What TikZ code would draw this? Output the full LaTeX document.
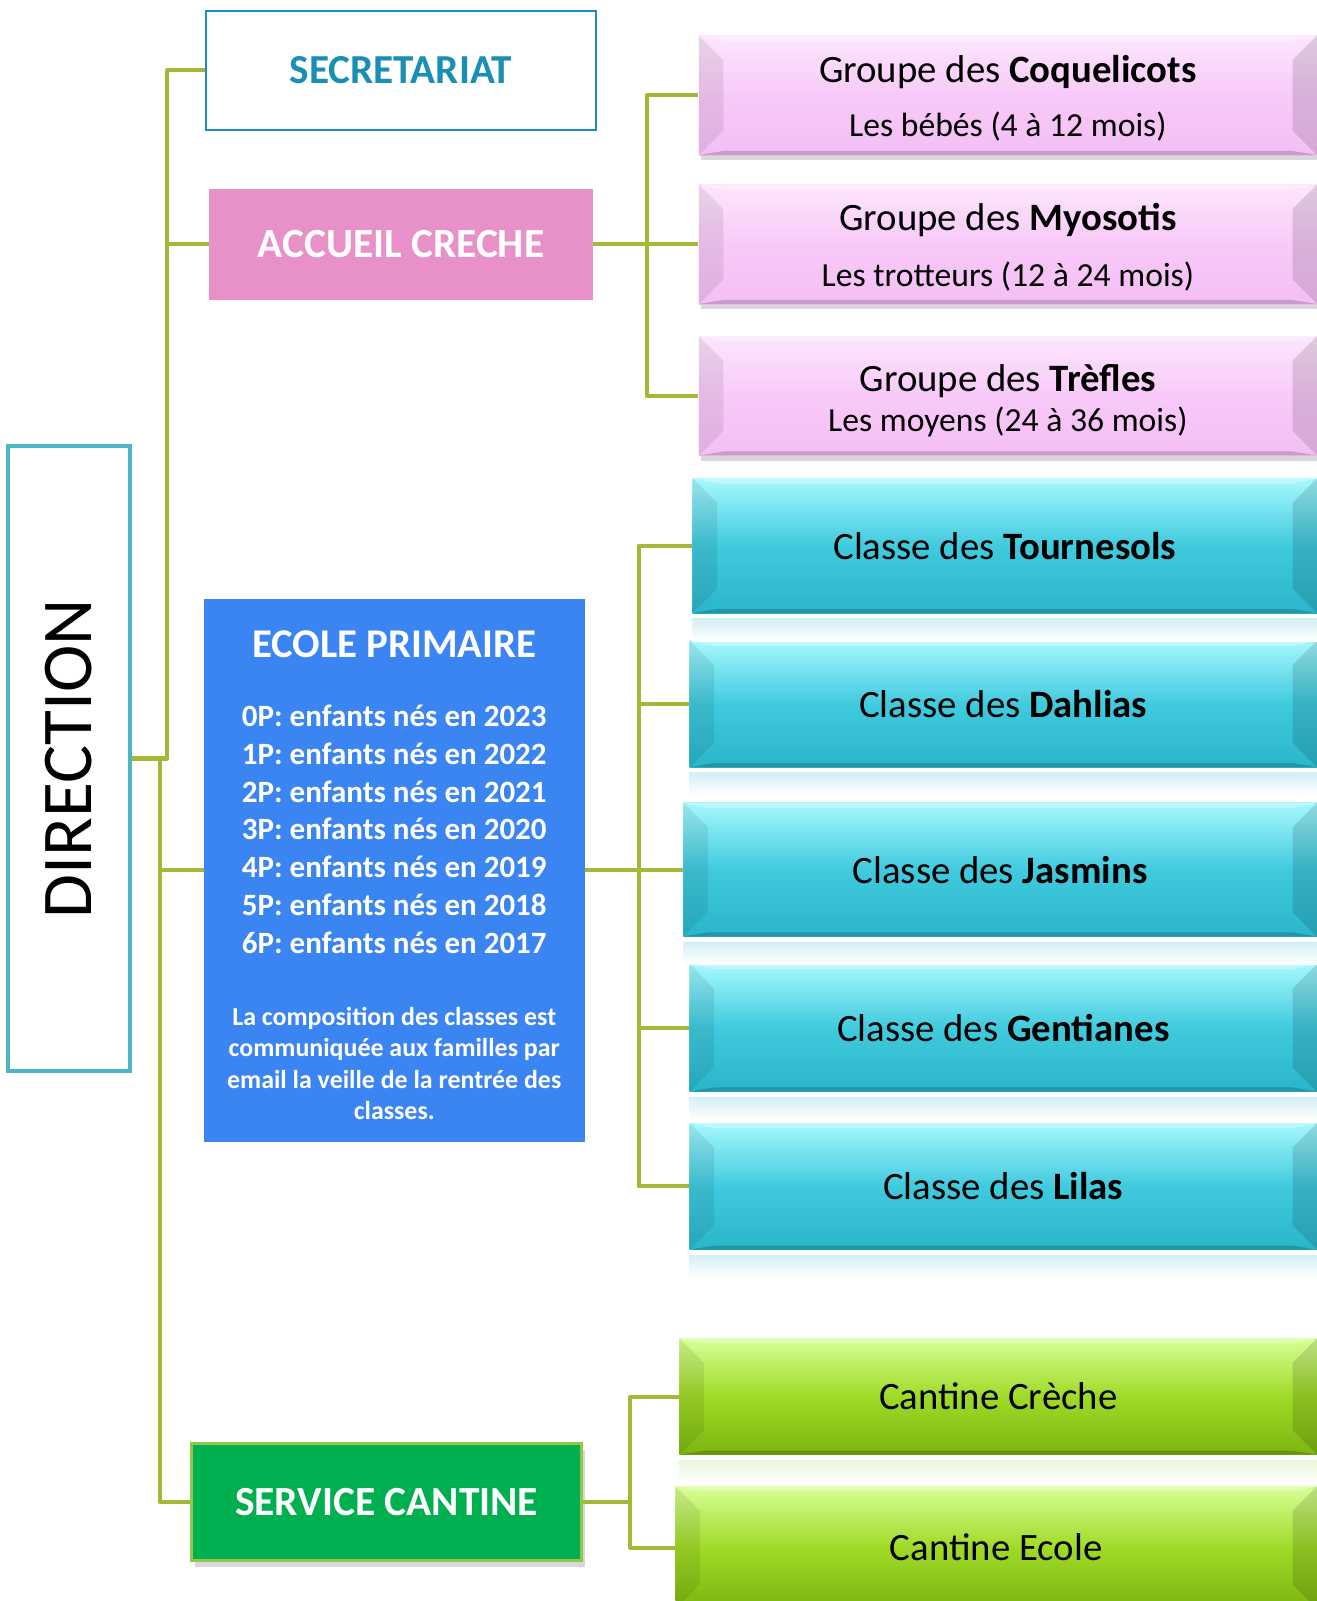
\documentclass[tikz,border=0pt]{standalone}
\usepackage{fontspec}
\setmainfont{Carlito}
\usetikzlibrary{calc,shadows}

\definecolor{olivelink}{HTML}{A6B637}
\definecolor{dirteal}{HTML}{4BB6C6}
\definecolor{secblue}{HTML}{1B8DBF}
\definecolor{sectext}{HTML}{1A8FB5}
\definecolor{crechepink}{HTML}{E891C8}
\definecolor{ecoleblue}{HTML}{3B85F2}
\definecolor{cantgreen}{HTML}{00B050}
\definecolor{cantedge}{HTML}{92C84A}
\definecolor{pinktop}{HTML}{FCE6FC}
\definecolor{pinkmid}{HTML}{F8C9F8}
\definecolor{pinkbot}{HTML}{F4BFF4}
\definecolor{tealtop}{HTML}{A6F8FE}
\definecolor{tealmid}{HTML}{40CADE}
\definecolor{tealbot}{HTML}{2AB5CA}
\definecolor{limetop}{HTML}{D6FF96}
\definecolor{limemid}{HTML}{A0DA27}
\definecolor{limebot}{HTML}{7BB50F}
\definecolor{tealglow}{HTML}{D3EFF4}
\definecolor{limeglow}{HTML}{EAF6D8}

\tikzset{
	link/.style={draw=olivelink,line width=2pt,line join=round},
	bevel/.style={path picture={
		\fill[black,opacity=0.08] (path picture bounding box.north west) -- ($(path picture bounding box.north west)+(24,24)$) -- ($(path picture bounding box.south west)+(24,-24)$) -- (path picture bounding box.south west) -- cycle;
		\fill[black,opacity=0.12] (path picture bounding box.north east) -- ($(path picture bounding box.north east)+(-24,24)$) -- ($(path picture bounding box.south east)+(-24,-24)$) -- (path picture bounding box.south east) -- cycle;
		\fill[white,opacity=0.3] (path picture bounding box.north west) -- (path picture bounding box.north east) -- ($(path picture bounding box.north east)+(-24,5)$) -- ($(path picture bounding box.north west)+(24,5)$) -- cycle;
		\fill[black,opacity=0.18] (path picture bounding box.south west) -- (path picture bounding box.south east) -- ($(path picture bounding box.south east)+(-24,-4)$) -- ($(path picture bounding box.south west)+(24,-4)$) -- cycle;
	}},
	grouppink/.style={bevel,top color=pinktop,bottom color=pinkbot,middle color=pinkmid,drop shadow={opacity=0.3,shadow xshift=1pt,shadow yshift=-2.5pt},minimum width=303pt,minimum height=58.5pt,text width=290pt,align=flush center,inner sep=0pt,font=\fontsize{19}{19}\selectfont},
	classteal/.style={bevel,top color=tealtop,bottom color=tealbot,middle color=tealmid,inner sep=0pt,font=\fontsize{19}{19}\selectfont},
	cantlime/.style={bevel,top color=limetop,bottom color=limebot,middle color=limemid,inner sep=0pt,font=\fontsize{19}{19}\selectfont},
	service/.style={inner sep=0pt,font=\bfseries\fontsize{20.3}{20.3}\selectfont}
}

\begin{document}
\begin{tikzpicture}[x=0.5pt,y=-0.5pt]
	\fill[white] (0,0) rectangle (1291,1569.4);
	\useasboundingbox (0,0) rectangle (1291,1569.4);

	\node[draw=dirteal,line width=2pt,fill=white,minimum width=59.5pt,minimum height=306.5pt,inner sep=0pt] (dir) at (67.5,743.5) {\rotatebox{90}{\fontsize{35}{35}\selectfont DIRECTION}};

	\node[service,draw=secblue,line width=1pt,fill=white,text=sectext,minimum width=191pt,minimum height=58pt] (sec) at (393,69) {\fontsize{20.2}{20.2}\selectfont SECRETARIAT};
	\node[service,fill=crechepink,text=white,minimum width=188pt,minimum height=54.5pt] (acc) at (393,239.5) {ACCUEIL CRECHE};
	\node[service,fill=ecoleblue,text=white,minimum width=186.5pt,minimum height=266pt,text width=180pt,align=flush center,font=\bfseries\fontsize{15.2}{18.5}\selectfont] (ecole) at (386.5,853) {%
		{\fontsize{20}{19}\selectfont ECOLE PRIMAIRE}\\[15.5pt]
		0P: enfants nés en 2023\\
		1P: enfants nés en 2022\\
		2P: enfants nés en 2021\\
		3P: enfants nés en 2020\\
		4P: enfants nés en 2019\\
		5P: enfants nés en 2018\\
		6P: enfants nés en 2017\\[19.75pt]
		{\fontsize{12.7}{15.5}\selectfont La composition des classes est\\
		communiquée aux familles par\\
		email la veille de la rentrée des\\
		classes.\par}\vspace{-5pt}};
	\node[service,fill=cantgreen,draw=cantedge,line width=1.5pt,text=white,minimum width=191pt,minimum height=57.5pt,drop shadow={opacity=0.3,shadow xshift=1.5pt,shadow yshift=-3pt}] (cant) at (379,1472.5) {SERVICE CANTINE};

	\node[grouppink] (coq) at (988,93.5) {\rule{0pt}{16pt}Groupe des \textbf{Coquelicots}\\[7.5pt]{\fontsize{16.5}{19}\selectfont Les bébés (4 à 12 mois)\par}};
	\node[grouppink] (myo) at (988,239.5) {\rule{0pt}{16pt}Groupe des \textbf{Myosotis}\\[8.5pt]{\fontsize{16.5}{19}\selectfont Les trotteurs (12 à 24 mois)\par}};
	\node[grouppink] (tre) at (988,388) {\rule{0pt}{18pt}Groupe des \textbf{Trèfles}\\[0.5pt]{\fontsize{16.5}{19}\selectfont Les moyens (24 à 36 mois)\par}};

	\node[classteal,minimum width=306pt,minimum height=66pt] (tou) at (985,535) {Classe des \textbf{Tournesols}};
	\node[classteal,minimum width=307.5pt,minimum height=62pt] (dah) at (983.5,690) {Classe des \textbf{Dahlias}};
	\node[classteal,minimum width=310.5pt,minimum height=65.5pt] (jas) at (980.5,852.5) {Classe des \textbf{Jasmins}};
	\node[classteal,minimum width=307.5pt,minimum height=62.5pt] (gen) at (983.5,1007.5) {Classe des \textbf{Gentianes}};
	\node[classteal,minimum width=307.5pt,minimum height=62pt] (lil) at (983.5,1163) {Classe des \textbf{Lilas}};

	\node[cantlime,minimum width=312.5pt,minimum height=57pt] (ccr) at (978.5,1369) {Cantine Crèche};
	\node[cantlime,minimum width=314.5pt,minimum height=60pt] (cec) at (976.5,1517) {Cantine Ecole};

	\foreach \n in {tou,dah,jas,gen,lil}
		\shade[top color=tealglow,bottom color=white] ($(\n.south west)+(0,5)$) rectangle ($(\n.south east)+(0,27)$);
	\shade[top color=limeglow,bottom color=white] ($(ccr.south west)+(0,5)$) rectangle ($(ccr.south east)+(0,27)$);

	\coordinate (upfork) at (164,743.5);
	\coordinate (lowfork) at (157,743.5);
	\coordinate (accfork) at (634,239.5);
	\coordinate (ecofork) at (626,853);
	\coordinate (cantfork) at (618,1472.5);

	\draw[link] (dir.east) -- (upfork) |- (sec.west);
	\draw[link] (upfork) |- (acc.west);
	\draw[link] (dir.east) -- (lowfork) |- (ecole.west);
	\draw[link] (lowfork) |- (cant.west);

	\draw[link] (acc.east) -- (accfork);
	\foreach \g in {coq,myo,tre}
		\draw[link] (accfork) |- (\g.west);
	\draw[link] (ecole.east) -- (ecofork);
	\foreach \c in {tou,dah,jas,gen,lil}
		\draw[link] (ecofork) |- (\c.west);
	\draw[link] (cant.east) -- (cantfork);
	\foreach \k in {ccr,cec}
		\draw[link] (cantfork) |- (\k.west);
\end{tikzpicture}
\end{document}
